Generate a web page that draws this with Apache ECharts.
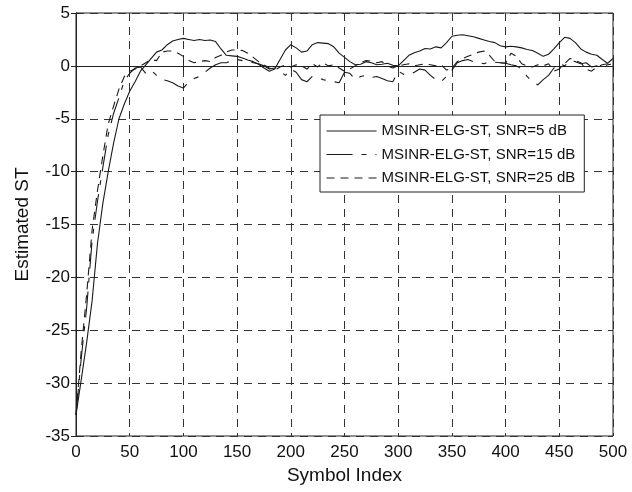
<!DOCTYPE html>
<html>
<head>
<meta charset="utf-8">
<script src="https://cdn.jsdelivr.net/npm/echarts@6/dist/echarts.min.js"></script>
<style>
  html, body { margin: 0; padding: 0; background: #fff; }
  #chart { width: 632px; height: 492px; }
</style>
</head>
<body>
<div id="chart"></div>
<script>
// Symbol index at which the estimates are sampled
const symbolIndex = [
  0, 5, 10, 15, 20, 25, 30, 35, 40, 45,
  50, 55, 60, 65, 70, 75, 80, 85, 90, 95,
  100, 105, 110, 115, 120, 125, 130, 135, 140, 145,
  150, 155, 160, 165, 170, 175, 180, 185, 190, 195,
  200, 205, 210, 215, 220, 225, 230, 235, 240, 245,
  250, 255, 260, 265, 270, 275, 280, 285, 290, 295,
  300, 305, 310, 315, 320, 325, 330, 335, 340, 345,
  350, 355, 360, 365, 370, 375, 380, 385, 390, 395,
  400, 405, 410, 415, 420, 425, 430, 435, 440, 445,
  450, 455, 460, 465, 470, 475, 480, 485, 490, 495,
  500
];

// Estimated ST, SNR = 5 dB
const stSnr5 = [
  -33.0, -29.6, -26.1, -22.2, -16.8, -13.0, -10.0, -7.3, -5.0, -3.6,
  -2.4, -1.5, -0.5, 0.1, 0.7, 1.3, 1.5, 2.0, 2.35, 2.5,
  2.6, 2.5, 2.4, 2.5, 2.4, 2.45, 2.3, 1.6, 1.0, 0.95,
  0.9, 0.75, 0.55, 0.4, 0.15, -0.2, -0.5, -0.3, 0.6, 1.5,
  2.0, 1.7, 1.3, 1.4, 2.0, 2.2, 2.15, 2.1, 1.8, 1.2,
  0.8, 0.4, 0.1, 0.15, 0.4, 0.3, 0.1, 0.15, 0.25, 0.05,
  0.0, 0.5, 1.0, 1.25, 1.4, 1.65, 1.6, 1.8, 1.7, 2.2,
  2.8, 2.9, 2.95, 2.85, 2.75, 2.6, 2.45, 2.3, 2.2, 1.9,
  1.8, 1.85, 1.8, 1.7, 1.55, 1.45, 1.2, 0.9, 1.1, 1.6,
  2.2, 2.7, 2.6, 2.2, 1.6, 1.3, 1.1, 1.0, 0.6, 0.25,
  0.7
];

// Estimated ST, SNR = 15 dB
const stSnr15 = [
  -33.0, -27.5, -22.8, -16.5, -12.8, -9.6, -6.5, -4.5, -3.0, -1.4,
  -0.7, -0.2, -0.1, -0.7, -0.4, -0.9, -1.3, -1.4, -1.6, -1.9,
  -2.1, -1.5, -1.2, -1.0, -0.6, -0.2, 0.1, 0.3, 0.3, 0.5,
  0.6, 0.5, 0.4, 0.3, 0.2, 0.0, -0.3, -0.2, -0.5, -0.9,
  -0.3, -0.6, -1.3, -1.5, -1.0, -1.1, -1.3, -1.4, -1.5, -1.6,
  -0.6, -0.7, -1.3, -1.0, -0.9, -1.1, -1.0, -1.2, -1.4, -1.5,
  -0.5, -0.8, -0.85, -0.6, -0.3, -0.4, -0.9, -1.3, -1.5, -1.0,
  -0.4, 0.3, 0.5, 0.6, 0.4, 0.3, 0.2, 0.4, 0.35, 0.3,
  0.25, 0.1, 0.0, -0.3, -1.0, -1.5, -1.8, -1.3, -0.9, -0.2,
  0.2, 0.0, 0.5, 0.4, 0.2, 0.3, -0.1, 0.0, -0.1, 0.1,
  0.2
];

// Estimated ST, SNR = 25 dB
const stSnr25 = [
  -33.0, -26.8, -21.5, -15.5, -11.8, -8.5, -5.5, -3.8, -2.2, -1.0,
  -0.5, -0.3, 0.0, 0.3, 0.6, 0.5, 1.3, 1.4, 1.4, 1.2,
  0.9, 0.5, 0.3, 0.4, 0.5, 0.4, 0.8, 1.0, 1.3, 1.5,
  1.5, 1.45, 1.2, 0.8, 0.4, 0.1, -0.2, -0.4, -0.1, 0.1,
  -0.1, 0.1, 0.0, -0.3, 0.2, -0.1, 0.3, 0.0, 0.1, -0.2,
  -0.5, -0.3, 0.0, 0.3, 0.5, 0.45, 0.3, 0.4, 0.0, -0.2,
  0.0, 0.1, 0.2, 0.0, 0.1, 0.2, 0.1, 0.0, 0.1, -0.4,
  -0.2, 0.4, 0.7, 0.9, 1.1, 1.3, 1.4, 1.0, 0.4, 0.3,
  0.25, 1.2, 0.9, 0.2, 0.0, -0.1, 0.1, 0.0, 0.2, -0.5,
  -0.3, 0.2, 0.7, 0.5, 0.3, -0.3, -0.5, -0.1, 0.1, 0.2,
  0.3
];

const seriesNames = [
  'MSINR-ELG-ST, SNR=5 dB',
  'MSINR-ELG-ST, SNR=15 dB',
  'MSINR-ELG-ST, SNR=25 dB'
];

const xTicks = { min: 0, max: 500, interval: 50 };
const yTicks = { min: -35, max: 5, interval: 5 };

const FONT = "'Liberation Sans', Arial, Helvetica, sans-serif";
const INK = '#1a1a1a';

function pairs(values) {
  return symbolIndex.map((n, i) => [n, values[i]]);
}

const gridDash = { color: '#333', width: 1, type: [8, 6] };

const chart = echarts.init(document.getElementById('chart'), null, { renderer: 'canvas' });

chart.setOption({
  backgroundColor: '#fff',
  animation: false,
  textStyle: { fontFamily: FONT },
  grid: {
    left: 76, right: 19, top: 13, bottom: 56,
    show: true, borderColor: '#222', borderWidth: 1, backgroundColor: 'transparent'
  },
  legend: {
    left: 320, top: 115,
    orient: 'vertical',
    itemWidth: 50, itemHeight: 14, itemGap: 8.5,
    padding: [8.5, 9, 6.5, 6],
    borderColor: '#222', borderWidth: 1, borderRadius: 0,
    backgroundColor: '#fff',
    itemStyle: { color: 'transparent', borderColor: 'transparent', borderWidth: 0, opacity: 0 },
    lineStyle: { width: 1 },
    textStyle: { fontFamily: FONT, fontSize: 15, color: '#111' },
    data: seriesNames
  },
  xAxis: [
    {
      type: 'value', position: 'bottom',
      min: xTicks.min, max: xTicks.max, interval: xTicks.interval,
      name: 'Symbol Index', nameLocation: 'middle', nameGap: 28,
      nameTextStyle: { fontFamily: FONT, fontSize: 19, color: '#111' },
      axisLine: { show: true, lineStyle: { color: '#222', width: 1 } },
      axisTick: { show: true, inside: true, length: 5, lineStyle: { color: '#222' } },
      axisLabel: { fontFamily: FONT, fontSize: 17, color: '#111', margin: 8 },
      splitLine: { show: true, lineStyle: gridDash }
    },
    {
      type: 'value', position: 'top',
      min: xTicks.min, max: xTicks.max, interval: xTicks.interval,
      axisLine: { show: true, lineStyle: { color: '#222', width: 1 } },
      axisTick: { show: true, inside: true, length: 5, lineStyle: { color: '#222' } },
      axisLabel: { show: false },
      splitLine: { show: false }
    }
  ],
  yAxis: [
    {
      type: 'value', position: 'left',
      min: yTicks.min, max: yTicks.max, interval: yTicks.interval,
      name: 'Estimated ST', nameLocation: 'middle', nameGap: 44,
      nameTextStyle: { fontFamily: FONT, fontSize: 19, color: '#111' },
      axisLine: { show: true, lineStyle: { color: '#222', width: 1 } },
      axisTick: { show: true, inside: true, length: 5, lineStyle: { color: '#222' } },
      axisLabel: { fontFamily: FONT, fontSize: 17, color: '#111', margin: 6 },
      splitLine: { show: true, lineStyle: gridDash }
    },
    {
      type: 'value', position: 'right',
      min: yTicks.min, max: yTicks.max, interval: yTicks.interval,
      axisLine: { show: true, lineStyle: { color: '#222', width: 1 } },
      axisTick: { show: true, inside: true, length: 5, lineStyle: { color: '#222' } },
      axisLabel: { show: false },
      splitLine: { show: false }
    }
  ],
  series: [
    {
      name: seriesNames[0], type: 'line', xAxisIndex: 0, yAxisIndex: 0,
      symbol: 'none', showSymbol: false,
      lineStyle: { color: INK, width: 1.1, type: 'solid' },
      itemStyle: { color: INK },
      data: pairs(stSnr5)
    },
    {
      name: seriesNames[1], type: 'line', xAxisIndex: 0, yAxisIndex: 0,
      symbol: 'none', showSymbol: false,
      lineStyle: { color: INK, width: 1.1, type: [26, 9, 5, 9] },
      itemStyle: { color: INK },
      data: pairs(stSnr15)
    },
    {
      name: seriesNames[2], type: 'line', xAxisIndex: 0, yAxisIndex: 0,
      symbol: 'none', showSymbol: false,
      lineStyle: { color: INK, width: 1.1, type: [8, 6] },
      itemStyle: { color: INK },
      data: pairs(stSnr25)
    }
  ]
});
</script>
</body>
</html>
